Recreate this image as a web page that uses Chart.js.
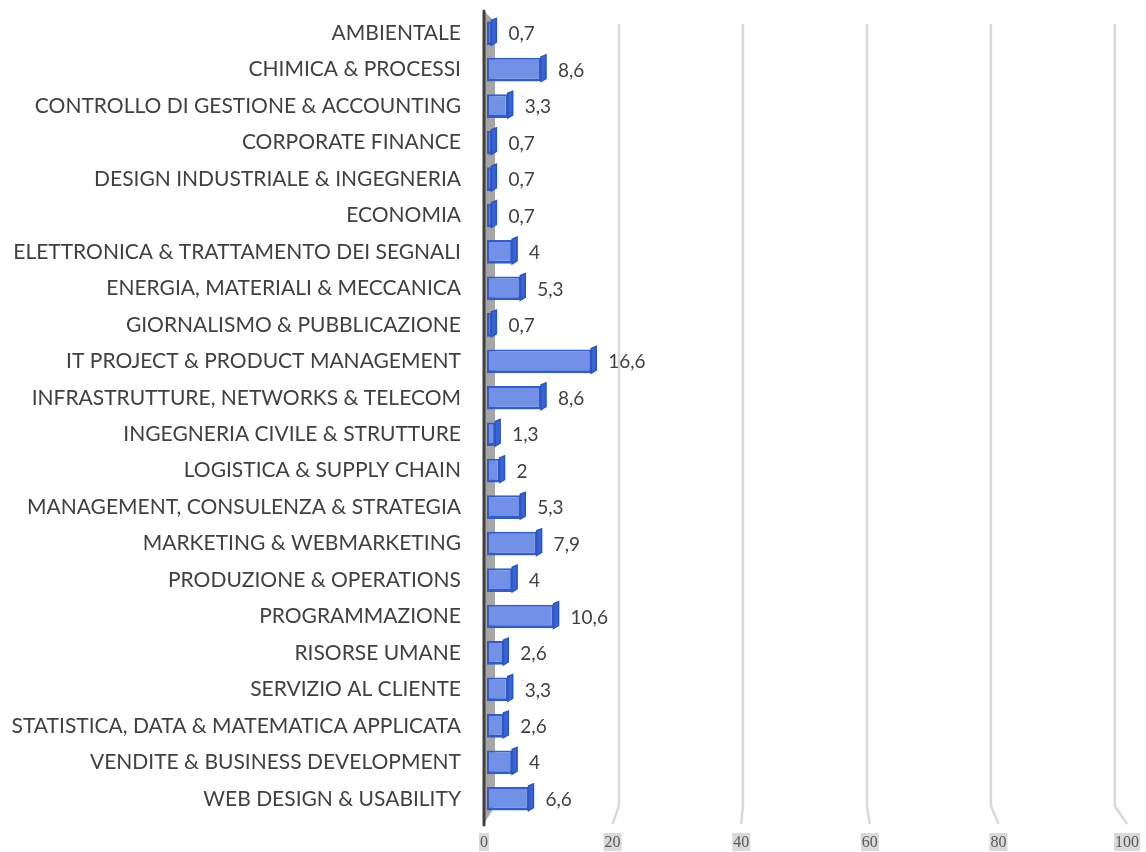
<!DOCTYPE html>
<html>
<head>
<meta charset="utf-8">
<script src="https://cdn.jsdelivr.net/npm/chart.js@4.4.0/dist/chart.umd.min.js"></script>
<style>
  html, body { margin: 0; padding: 0; background: #ffffff; }
  #wrap { width: 1146px; height: 852px; }
</style>
</head>
<body>
<div id="wrap"><canvas id="chart" width="1146" height="852"></canvas></div>
<script>
const categories = [
    'AMBIENTALE',
    'CHIMICA & PROCESSI',
    'CONTROLLO DI GESTIONE & ACCOUNTING',
    'CORPORATE FINANCE',
    'DESIGN INDUSTRIALE & INGEGNERIA',
    'ECONOMIA',
    'ELETTRONICA & TRATTAMENTO DEI SEGNALI',
    'ENERGIA, MATERIALI & MECCANICA',
    'GIORNALISMO & PUBBLICAZIONE',
    'IT PROJECT & PRODUCT MANAGEMENT',
    'INFRASTRUTTURE, NETWORKS & TELECOM',
    'INGEGNERIA CIVILE & STRUTTURE',
    'LOGISTICA & SUPPLY CHAIN',
    'MANAGEMENT, CONSULENZA & STRATEGIA',
    'MARKETING & WEBMARKETING',
    'PRODUZIONE & OPERATIONS',
    'PROGRAMMAZIONE',
    'RISORSE UMANE',
    'SERVIZIO AL CLIENTE',
    'STATISTICA, DATA & MATEMATICA APPLICATA',
    'VENDITE & BUSINESS DEVELOPMENT',
    'WEB DESIGN & USABILITY'
];
const values = [0.7, 8.6, 3.3, 0.7, 0.7, 0.7, 4, 5.3, 0.7, 16.6, 8.6, 1.3, 2, 5.3, 7.9, 4, 10.6, 2.6, 3.3, 2.6, 4, 6.6];
const xTicks = [0, 20, 40, 60, 80, 100];

const fmt = (v) => String(v).replace('.', ',');

// back wall gridlines, the grey side wall, the axis line and the tick labels
const wallPlugin = {
    id: 'wall',
    beforeDatasetsDraw(chart) {
        const c = chart.ctx;
        const xs = chart.scales.x;
        const left = xs.left;
        c.save();
        xTicks.forEach((v) => {
            const px = xs.getPixelForValue(v);
            const backX = left + 8 + (px - left) * 0.987;
            const frontX = left - 3 + (px - left) * 1.024;
            if (v !== 0) {
                c.strokeStyle = '#d9d9d9';
                c.lineWidth = 2.5;
                c.beginPath();
                c.moveTo(backX, 24);
                c.lineTo(backX, 806);
                c.lineTo(frontX, 824);
                c.stroke();
            }
            c.font = '16px "Liberation Serif"';
            const label = String(v);
            const w = c.measureText(label).width;
            c.fillStyle = '#d9d9d9';
            c.fillRect(frontX - w / 2 - 1, 833, w + 2, 18);
            c.fillStyle = '#595959';
            c.textAlign = 'center';
            c.textBaseline = 'middle';
            c.fillText(label, frontX, 843);
        });
        // grey side wall
        c.fillStyle = '#a6a6a6';
        c.beginPath();
        c.moveTo(left - 2, 12);
        c.lineTo(left + 8, 22);
        c.lineTo(left + 8, 806);
        c.lineTo(left - 2, 822);
        c.closePath();
        c.fill();
        // axis line
        c.strokeStyle = '#404040';
        c.lineWidth = 3;
        c.lineCap = 'round';
        c.beginPath();
        c.moveTo(left - 3, 11);
        c.lineTo(left - 3, 825);
        c.stroke();
        c.restore();
    }
};

// side face of each bar and the value labels
const barPlugin = {
    id: 'bar3d',
    afterDatasetsDraw(chart) {
        const c = chart.ctx;
        const meta = chart.getDatasetMeta(0);
        c.save();
        meta.data.forEach((bar, i) => {
            const top = bar.y - bar.height / 2;
            c.fillStyle = '#3d63cf';
            c.strokeStyle = '#2a55c8';
            c.lineWidth = 1.5;
            c.beginPath();
            c.moveTo(bar.x, top - 1);
            c.lineTo(bar.x + 5, top - 3);
            c.lineTo(bar.x + 5, top + bar.height - 3);
            c.lineTo(bar.x, top + bar.height);
            c.closePath();
            c.fill();
            c.stroke();
            c.fillStyle = '#404040';
            c.font = '19px Lato';
            c.textAlign = 'left';
            c.textBaseline = 'middle';
            c.fillText(fmt(values[i]), bar.x + 17, bar.y + 1);
        });
        c.restore();
    }
};

new Chart(document.getElementById('chart'), {
    type: 'bar',
    data: {
        labels: categories,
        datasets: [{
            data: values,
            backgroundColor: '#7290e6',
            borderColor: '#2f5ccf',
            borderWidth: { top: 2, left: 2, right: 2, bottom: 3 },
            borderSkipped: false,
            barPercentage: 0.65,
            categoryPercentage: 1
        }]
    },
    options: {
        indexAxis: 'y',
        responsive: false,
        animation: false,
        layout: { padding: { top: 15, bottom: 35, right: 31, left: 0 } },
        plugins: {
            legend: { display: false },
            tooltip: { enabled: false }
        },
        scales: {
            x: { display: false, min: 0, max: 100 },
            y: {
                afterFit: (scale) => {
                    scale.width = 487;
                    scale.paddingTop = 0;
                    scale.paddingBottom = 0;
                },
                grid: { display: false, drawTicks: false },
                border: { display: false },
                ticks: {
                    padding: 26,
                    color: '#404040',
                    font: { family: 'Lato', size: 21 }
                }
            }
        }
    },
    plugins: [wallPlugin, barPlugin]
});
</script>
</body>
</html>
